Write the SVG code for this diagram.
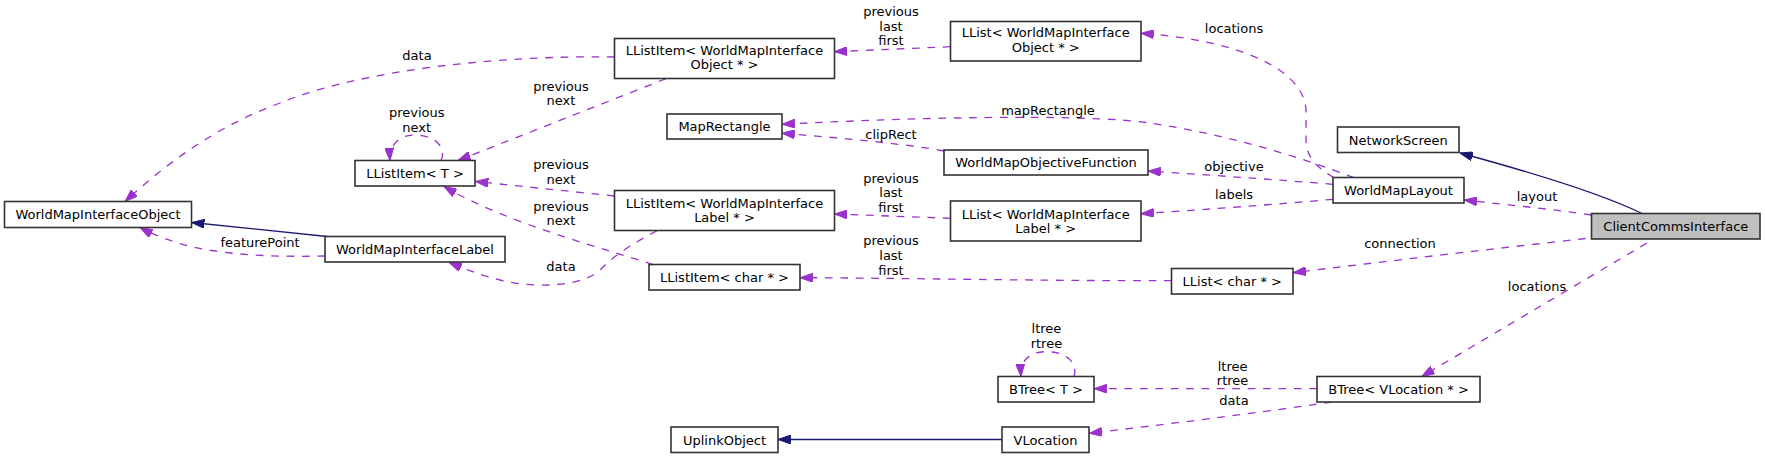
<svg xmlns="http://www.w3.org/2000/svg" width="1765" height="459" viewBox="0 0 1765 459">
<style>
text{font-family:"DejaVu Sans","Liberation Sans",sans-serif;font-size:13px;fill:#000;text-anchor:middle}
.n rect{fill:#fff;stroke:#333333;stroke-width:1.6}
.n.h rect{fill:#bfbfbf}
.e path{fill:none;stroke-width:1.3}
.d{stroke:#9a32cd;stroke-dasharray:7.7,7.7;marker-end:url(#ap)}
.i{stroke:#191970;marker-end:url(#an)}
</style>
<defs>
<marker id="ap" viewBox="0 0 12.75 9" refX="12.75" refY="4.5" markerWidth="12.75" markerHeight="9" markerUnits="userSpaceOnUse" orient="auto"><path d="M0,0L12.75,4.5L0,9z" fill="#9a32cd" stroke="#9a32cd" stroke-width="1"/></marker>
<marker id="an" viewBox="0 0 12.75 9" refX="12.75" refY="4.5" markerWidth="12.75" markerHeight="9" markerUnits="userSpaceOnUse" orient="auto"><path d="M0,0L12.75,4.5L0,9z" fill="#191970" stroke="#191970" stroke-width="1"/></marker>
</defs>
<g id="edges" class="e">
<path class="d" d="M614.5,57 C500,55 360,70 280,103 C220,125 170,160 125,201.5"/>
<path class="d" d="M666,78.7 L458,160.5"/>
<path class="d" d="M441,160.5 C447,148 436,135 414,135 C398,135 389,146 390,160.5"/>
<path class="d" d="M614.5,196 L475.5,181.5"/>
<path class="d" d="M653,264.5 C610,250 510,225 444,186.5"/>
<path class="d" d="M657,230.7 C630,245 615,255 602,268 C588,285 540,290 500,280 C480,275 465,269 449,262.5"/>
<path class="i" d="M327,236.5 L191.7,222.5"/>
<path class="d" d="M325,256 C280,257 220,256 178,243 C165,239 150,233 140,227.5"/>
<path class="d" d="M950.5,46.7 L834.5,51.7"/>
<path class="d" d="M1334,177.7 C1318,168 1306,158 1306,140 L1306,112 C1306,70 1240,40 1141,33.3"/>
<path class="d" d="M1354,177.7 C1300,157 1230,135 1150,123 C1080,113 900,118 782,124.3"/>
<path class="d" d="M944,151 C900,143 840,138 782,133.3"/>
<path class="d" d="M1333,184.3 C1280,180 1210,175 1148,171"/>
<path class="d" d="M1333,199.3 C1280,204 1200,210 1141,213.7"/>
<path class="d" d="M950.5,218.3 L834.5,214"/>
<path class="d" d="M1171.5,280.7 C1050,281 900,278 800,277.7"/>
<path class="i" d="M1642,213.5 C1600,193 1530,172 1460,153"/>
<path class="d" d="M1591.5,215 C1550,209 1510,205 1464.2,200"/>
<path class="d" d="M1585.5,238.5 C1500,248 1380,262 1293.2,272.7"/>
<path class="d" d="M1647,243 L1421.7,376.5"/>
<path class="d" d="M1317,388.7 L1094.2,388.7"/>
<path class="d" d="M1074,376.5 C1078,364 1068,351.7 1046,351.7 C1030,351.7 1020,360 1021,376.5"/>
<path class="d" d="M1331.7,402 C1250,414 1160,425 1089.3,433.3"/>
<path class="i" d="M1002,439.5 L778,439.5"/>
<text x="417" y="60">data</text>
<text x="416.7" y="117.4">previous</text><text x="416.7" y="132">next</text>
<text x="561" y="91.4">previous</text><text x="561" y="105">next</text>
<text x="561" y="169.4">previous</text><text x="561" y="184">next</text>
<text x="561" y="211.4">previous</text><text x="561" y="225.4">next</text>
<text x="260" y="247">featurePoint</text>
<text x="561" y="271">data</text>
<text x="891" y="16.4">previous</text><text x="891" y="31">last</text><text x="891" y="45">first</text>
<text x="1048" y="115">mapRectangle</text>
<text x="891" y="139.4">clipRect</text>
<text x="891" y="183.4">previous</text><text x="891" y="197.4">last</text><text x="891" y="211.7">first</text>
<text x="891" y="245.4">previous</text><text x="891" y="260">last</text><text x="891" y="274.7">first</text>
<text x="1234" y="33">locations</text>
<text x="1234" y="170.7">objective</text>
<text x="1234" y="198.7">labels</text>
<text x="1537" y="201.4">layout</text>
<text x="1400" y="248.4">connection</text>
<text x="1537" y="290.7">locations</text>
<text x="1046.4" y="333.4">ltree</text><text x="1046.4" y="348">rtree</text>
<text x="1232.6" y="371">ltree</text><text x="1232.6" y="385">rtree</text>
<text x="1234" y="405.4">data</text>
</g>
<g id="WorldMapInterfaceObject" class="n"><rect x="4.5" y="201.5" width="187" height="26"/><text x="98" y="219">WorldMapInterfaceObject</text></g>
<g id="LListItemT" class="n"><rect x="355" y="160.5" width="120" height="25.5"/><text x="415" y="178">LListItem&lt; T &gt;</text></g>
<g id="WorldMapInterfaceLabel" class="n"><rect x="325" y="236.5" width="180" height="25.5"/><text x="415" y="254">WorldMapInterfaceLabel</text></g>
<g id="LListItemWMIObject" class="n"><rect x="614.5" y="38.5" width="220" height="40"/><text x="724.5" y="55.4">LListItem&lt; WorldMapInterface</text><text x="724.5" y="69">Object * &gt;</text></g>
<g id="LListWMIObject" class="n"><rect x="950.5" y="21.5" width="190.5" height="39.5"/><text x="1045.7" y="37">LList&lt; WorldMapInterface</text><text x="1045.7" y="52">Object * &gt;</text></g>
<g id="MapRectangle" class="n"><rect x="667" y="114" width="115" height="25"/><text x="724.5" y="131">MapRectangle</text></g>
<g id="WorldMapObjectiveFunction" class="n"><rect x="944" y="150" width="204" height="25"/><text x="1046" y="167">WorldMapObjectiveFunction</text></g>
<g id="LListItemWMILabel" class="n"><rect x="614.5" y="190.5" width="220" height="40"/><text x="724.5" y="208.2">LListItem&lt; WorldMapInterface</text><text x="724.5" y="222.2">Label * &gt;</text></g>
<g id="LListWMILabel" class="n"><rect x="950.5" y="201" width="190.5" height="40"/><text x="1045.7" y="218.7">LList&lt; WorldMapInterface</text><text x="1045.7" y="232.7">Label * &gt;</text></g>
<g id="LListItemChar" class="n"><rect x="649" y="264.5" width="151" height="25.5"/><text x="724.5" y="282">LListItem&lt; char * &gt;</text></g>
<g id="LListChar" class="n"><rect x="1171.5" y="268.5" width="121.5" height="25.5"/><text x="1232.3" y="286">LList&lt; char * &gt;</text></g>
<g id="NetworkScreen" class="n"><rect x="1337.5" y="127" width="121.5" height="25.5"/><text x="1398.3" y="144.5">NetworkScreen</text></g>
<g id="WorldMapLayout" class="n"><rect x="1333" y="177.5" width="131" height="25.5"/><text x="1398.5" y="195">WorldMapLayout</text></g>
<g id="ClientCommsInterface" class="n h"><rect x="1591.5" y="213.5" width="168.5" height="25.5"/><text x="1675.8" y="231">ClientCommsInterface</text></g>
<g id="BTreeT" class="n"><rect x="998" y="376.5" width="96" height="25.5"/><text x="1046" y="394">BTree&lt; T &gt;</text></g>
<g id="BTreeVLocation" class="n"><rect x="1317" y="376.5" width="163" height="25.5"/><text x="1398.5" y="394">BTree&lt; VLocation * &gt;</text></g>
<g id="UplinkObject" class="n"><rect x="671" y="427" width="107" height="25.5"/><text x="724.5" y="444.5">UplinkObject</text></g>
<g id="VLocation" class="n"><rect x="1002" y="427" width="87" height="25.5"/><text x="1045.5" y="444.5">VLocation</text></g>
</svg>
